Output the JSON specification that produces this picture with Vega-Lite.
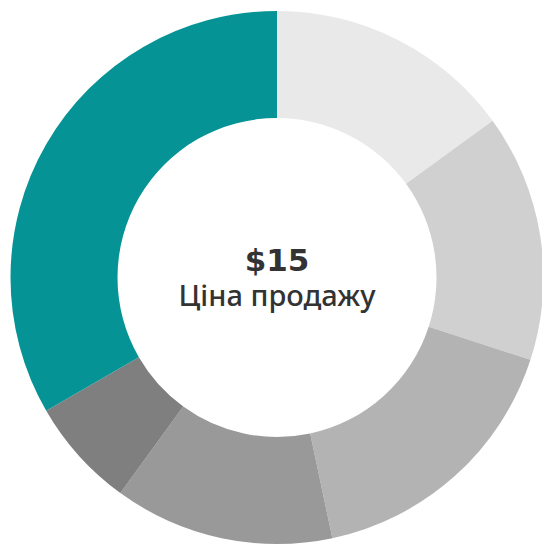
{
  "$schema": "https://vega.github.io/schema/vega-lite/v6.json",
  "width": 530,
  "height": 535,
  "autosize": {"type": "none"},
  "padding": {"left": 12, "top": 10, "right": 0, "bottom": 0},
  "background": "white",
  "config": {"view": {"stroke": null}},
  "layer": [
    {
      "data": {"values": [
        {"part": "Частина 1", "value": 2.25, "order": 1},
        {"part": "Частина 2", "value": 2.25, "order": 2},
        {"part": "Частина 3", "value": 2.5, "order": 3},
        {"part": "Частина 4", "value": 2.0, "order": 4},
        {"part": "Частина 5", "value": 1.0, "order": 5},
        {"part": "Частина 6", "value": 5.0, "order": 6}
      ]},
      "mark": {"type": "arc", "outerRadius": 266.5, "innerRadius": 159.5},
      "encoding": {
        "theta": {"field": "value", "type": "quantitative", "stack": true},
        "order": {"field": "order", "type": "quantitative"},
        "color": {
          "field": "part",
          "type": "nominal",
          "scale": {
            "domain": ["Частина 1", "Частина 2", "Частина 3", "Частина 4", "Частина 5", "Частина 6"],
            "range": ["#e9e9e9", "#d0d0d0", "#b3b3b3", "#999999", "#7f7f7f", "#069396"]
          },
          "legend": null
        }
      }
    },
    {
      "data": {"values": [{"label": "$15"}]},
      "mark": {"type": "text", "font": "DejaVu Sans", "fontWeight": "bold", "fontSize": 31, "color": "#333333", "baseline": "alphabetic", "align": "center", "dy": -7},
      "encoding": {"text": {"field": "label"}}
    },
    {
      "data": {"values": [{"label": "Ціна продажу"}]},
      "mark": {"type": "text", "font": "Noto Sans", "fontWeight": 500, "fontSize": 29, "color": "#333333", "baseline": "alphabetic", "align": "center", "dy": 28},
      "encoding": {"text": {"field": "label"}}
    }
  ]
}
